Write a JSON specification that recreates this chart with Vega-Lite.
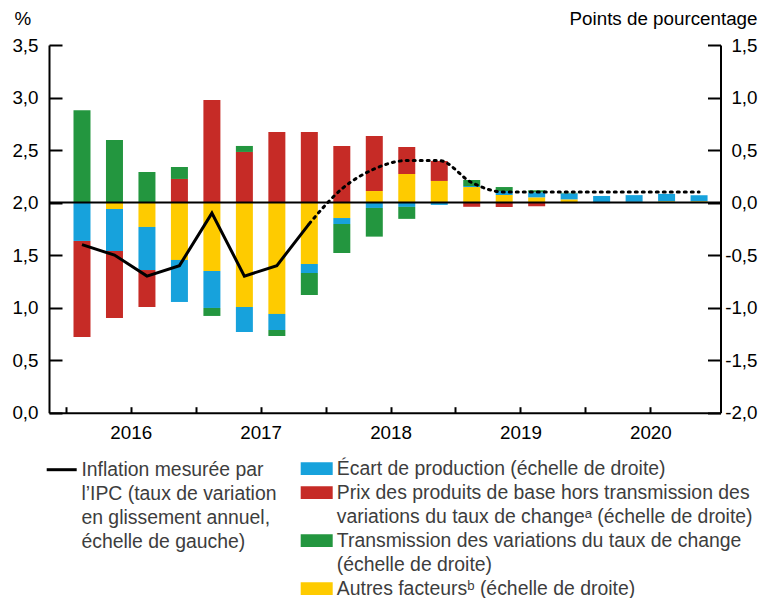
{
  "$schema": "https://vega.github.io/schema/vega-lite/v6.json",
  "width": 671.5,
  "height": 367.7,
  "autosize": {"type": "none"},
  "padding": {"left": 49, "top": 45, "right": 41.5, "bottom": 185.3},
  "config": {
    "view": {"stroke": null},
    "font": "Liberation Sans",
    "axis": {
      "grid": false,
      "domainColor": "#000000",
      "domainWidth": 2,
      "tickColor": "#000000",
      "tickWidth": 2,
      "labelColor": "#000000",
      "labelFont": "Liberation Sans",
      "labelFontSize": 18.8,
      "labelFlush": false,
      "labelOverlap": false,
      "titleFont": "Liberation Sans",
      "titleFontSize": 18.8,
      "titleFontWeight": "normal",
      "titleColor": "#000000"
    },
    "legend": {
      "labelFont": "Liberation Sans",
      "labelFontSize": 19.4,
      "labelColor": "#3d3d3d",
      "labelLimit": 1000,
      "padding": 0,
      "title": null
    }
  },
  "datasets": {
    "contrib": [
      {"t": 2016.125, "serie": "Transmission", "valeur": 0.88},
      {"t": 2016.125, "serie": "Écart de production", "valeur": -0.365},
      {"t": 2016.125, "serie": "Prix des produits de base", "valeur": -0.914},
      {"t": 2016.375, "serie": "Transmission", "valeur": 0.596},
      {"t": 2016.375, "serie": "Autres facteurs", "valeur": -0.061},
      {"t": 2016.375, "serie": "Écart de production", "valeur": -0.4},
      {"t": 2016.375, "serie": "Prix des produits de base", "valeur": -0.637},
      {"t": 2016.625, "serie": "Transmission", "valeur": 0.291},
      {"t": 2016.625, "serie": "Autres facteurs", "valeur": -0.232},
      {"t": 2016.625, "serie": "Écart de production", "valeur": -0.41},
      {"t": 2016.625, "serie": "Prix des produits de base", "valeur": -0.352},
      {"t": 2016.875, "serie": "Prix des produits de base", "valeur": 0.225},
      {"t": 2016.875, "serie": "Transmission", "valeur": 0.114},
      {"t": 2016.875, "serie": "Autres facteurs", "valeur": -0.546},
      {"t": 2016.875, "serie": "Écart de production", "valeur": -0.4},
      {"t": 2017.125, "serie": "Prix des produits de base", "valeur": 0.977},
      {"t": 2017.125, "serie": "Autres facteurs", "valeur": -0.651},
      {"t": 2017.125, "serie": "Écart de production", "valeur": -0.352},
      {"t": 2017.125, "serie": "Transmission", "valeur": -0.076},
      {"t": 2017.375, "serie": "Prix des produits de base", "valeur": 0.482},
      {"t": 2017.375, "serie": "Transmission", "valeur": 0.057},
      {"t": 2017.375, "serie": "Autres facteurs", "valeur": -0.994},
      {"t": 2017.375, "serie": "Écart de production", "valeur": -0.238},
      {"t": 2017.625, "serie": "Prix des produits de base", "valeur": 0.672},
      {"t": 2017.625, "serie": "Autres facteurs", "valeur": -1.06},
      {"t": 2017.625, "serie": "Écart de production", "valeur": -0.153},
      {"t": 2017.625, "serie": "Transmission", "valeur": -0.057},
      {"t": 2017.875, "serie": "Prix des produits de base", "valeur": 0.672},
      {"t": 2017.875, "serie": "Autres facteurs", "valeur": -0.584},
      {"t": 2017.875, "serie": "Écart de production", "valeur": -0.086},
      {"t": 2017.875, "serie": "Transmission", "valeur": -0.209},
      {"t": 2018.125, "serie": "Prix des produits de base", "valeur": 0.539},
      {"t": 2018.125, "serie": "Autres facteurs", "valeur": -0.147},
      {"t": 2018.125, "serie": "Écart de production", "valeur": -0.057},
      {"t": 2018.125, "serie": "Transmission", "valeur": -0.276},
      {"t": 2018.375, "serie": "Autres facteurs", "valeur": 0.11},
      {"t": 2018.375, "serie": "Prix des produits de base", "valeur": 0.524},
      {"t": 2018.375, "serie": "Écart de production", "valeur": -0.051},
      {"t": 2018.375, "serie": "Transmission", "valeur": -0.273},
      {"t": 2018.625, "serie": "Autres facteurs", "valeur": 0.272},
      {"t": 2018.625, "serie": "Prix des produits de base", "valeur": 0.257},
      {"t": 2018.625, "serie": "Écart de production", "valeur": -0.041},
      {"t": 2018.625, "serie": "Transmission", "valeur": -0.114},
      {"t": 2018.875, "serie": "Autres facteurs", "valeur": 0.206},
      {"t": 2018.875, "serie": "Prix des produits de base", "valeur": 0.19},
      {"t": 2018.875, "serie": "Écart de production", "valeur": -0.022},
      {"t": 2019.125, "serie": "Autres facteurs", "valeur": 0.148},
      {"t": 2019.125, "serie": "Écart de production", "valeur": 0.01},
      {"t": 2019.125, "serie": "Transmission", "valeur": 0.057},
      {"t": 2019.125, "serie": "Prix des produits de base", "valeur": -0.04},
      {"t": 2019.375, "serie": "Autres facteurs", "valeur": 0.072},
      {"t": 2019.375, "serie": "Écart de production", "valeur": 0.038},
      {"t": 2019.375, "serie": "Transmission", "valeur": 0.038},
      {"t": 2019.375, "serie": "Prix des produits de base", "valeur": -0.042},
      {"t": 2019.625, "serie": "Autres facteurs", "valeur": 0.05},
      {"t": 2019.625, "serie": "Écart de production", "valeur": 0.048},
      {"t": 2019.625, "serie": "Transmission", "valeur": 0.019},
      {"t": 2019.625, "serie": "Prix des produits de base", "valeur": -0.035},
      {"t": 2019.875, "serie": "Autres facteurs", "valeur": 0.031},
      {"t": 2019.875, "serie": "Écart de production", "valeur": 0.057},
      {"t": 2019.875, "serie": "Transmission", "valeur": 0.005},
      {"t": 2019.875, "serie": "Prix des produits de base", "valeur": -0.005},
      {"t": 2020.125, "serie": "Autres facteurs", "valeur": 0.003},
      {"t": 2020.125, "serie": "Écart de production", "valeur": 0.06},
      {"t": 2020.125, "serie": "Prix des produits de base", "valeur": -0.005},
      {"t": 2020.375, "serie": "Autres facteurs", "valeur": 0.007},
      {"t": 2020.375, "serie": "Écart de production", "valeur": 0.064},
      {"t": 2020.625, "serie": "Autres facteurs", "valeur": 0.013},
      {"t": 2020.625, "serie": "Écart de production", "valeur": 0.07},
      {"t": 2020.875, "serie": "Autres facteurs", "valeur": 0.013},
      {"t": 2020.875, "serie": "Écart de production", "valeur": 0.057}
    ],
    "ipc_obs": [
      {"t": 2016.125, "ipc": 1.6},
      {"t": 2016.375, "ipc": 1.5},
      {"t": 2016.625, "ipc": 1.3},
      {"t": 2016.875, "ipc": 1.4},
      {"t": 2017.125, "ipc": 1.9},
      {"t": 2017.375, "ipc": 1.3},
      {"t": 2017.625, "ipc": 1.4},
      {"t": 2017.875, "ipc": 1.8}
    ],
    "ipc_proj": [
      {"t": 2017.875, "ipc": 1.8},
      {"t": 2018.125, "ipc": 2.13},
      {"t": 2018.375, "ipc": 2.32},
      {"t": 2018.625, "ipc": 2.4},
      {"t": 2018.875, "ipc": 2.4},
      {"t": 2019.125, "ipc": 2.19},
      {"t": 2019.375, "ipc": 2.1},
      {"t": 2019.625, "ipc": 2.1},
      {"t": 2019.875, "ipc": 2.1},
      {"t": 2020.125, "ipc": 2.1},
      {"t": 2020.375, "ipc": 2.1},
      {"t": 2020.625, "ipc": 2.1},
      {"t": 2020.875, "ipc": 2.1}
    ]
  },
  "layer": [
    {
      "layer": [
        {
          "data": {"name": "contrib"},
          "transform": [
            {"calculate": "indexof(['Autres facteurs','Écart de production','Prix des produits de base','Transmission'], datum.serie)", "as": "rang"}
          ],
          "mark": {"type": "bar", "size": 17},
          "encoding": {
            "x": {
              "field": "t",
              "type": "quantitative",
              "scale": {"domain": [2015.871, 2021.04], "nice": false, "zero": false, "padding": 0},
              "axis": {
                "orient": "bottom",
                "title": null,
                "values": [2016, 2016.25, 2016.5, 2016.75, 2017, 2017.25, 2017.5, 2017.75, 2018, 2018.25, 2018.5, 2018.75, 2019, 2019.25, 2019.5, 2019.75, 2020, 2020.25, 2020.5, 2020.75],
                "labelExpr": "datum.value % 1 === 0.5 ? toString(floor(datum.value)) : ''",
                "tickSize": -6,
                "labelPadding": 17,
                "encode": {"ticks": {"update": {"y2": {"signal": "datum.value % 1 === 0 ? -11 : -6"}}}}
              }
            },
            "y": {
              "field": "valeur",
              "type": "quantitative",
              "stack": "zero",
              "scale": {"domain": [-2, 1.5], "nice": false, "zero": false, "padding": 0},
              "axis": {
                "orient": "right",
                "values": [-2, -1.5, -1, -0.5, 0, 0.5, 1, 1.5],
                "labelExpr": "replace(replace(format(datum.value, '.1f'), '.', ','), '−', '-')",
                "tickSize": -13,
                "labelPadding": 49.5,
                "labelAlign": "right",
                "title": "Points de pourcentage",
                "titleAngle": 0,
                "titleAlign": "right",
                "titleBaseline": "middle",
                "titleX": 36.5,
                "titleY": -27
              }
            },
            "color": {
              "field": "serie",
              "type": "nominal",
              "scale": {
                "domain": ["Écart de production", "Prix des produits de base", "Transmission", "Autres facteurs"],
                "range": ["#17a2dc", "#c62b26", "#23963f", "#fecb00"]
              },
              "legend": {
                "orient": "none",
                "legendX": 258,
                "legendY": 414,
                "symbolType": "M-2,-0.8H2V0.8H-2Z",
                "symbolSize": 256,
                "symbolStrokeWidth": 0,
                "labelOffset": 10.4,
                "rowPadding": 3,
                "labelExpr": "datum.label === 'Écart de production' ? 'Écart de production (échelle de droite)' : datum.label === 'Prix des produits de base' ? ['Prix des produits de base hors transmission des', 'variations du taux de changeᵃ (échelle de droite)'] : datum.label === 'Transmission' ? ['Transmission des variations du taux de change', '(échelle de droite)'] : 'Autres facteursᵇ (échelle de droite)'",
                "encode": {"labels": {"update": {"lineHeight": {"value": 24}}}}
              }
            },
            "order": {"field": "rang", "type": "quantitative", "sort": "ascending"}
          }
        },
        {
          "data": {"values": [{}]},
          "mark": {"type": "rule", "color": "#000000", "strokeWidth": 2},
          "encoding": {"y": {"datum": 0}}
        }
      ]
    },
    {
      "layer": [
        {
          "data": {"name": "ipc_obs"},
          "mark": {"type": "line", "strokeWidth": 3, "strokeJoin": "miter"},
          "encoding": {
            "x": {"field": "t", "type": "quantitative"},
            "y": {
              "field": "ipc",
              "type": "quantitative",
              "scale": {"domain": [0, 3.5], "nice": false, "zero": false, "padding": 0},
              "axis": {
                "orient": "left",
                "values": [0, 0.5, 1, 1.5, 2, 2.5, 3, 3.5],
                "labelExpr": "replace(format(datum.value, '.1f'), '.', ',')",
                "tickSize": -13,
                "labelPadding": 24,
                "title": "%",
                "titleAngle": 0,
                "titleAlign": "left",
                "titleBaseline": "middle",
                "titleX": -35,
                "titleY": -27
              }
            },
            "stroke": {
              "datum": "IPC",
              "scale": {"range": ["#000000"]},
              "legend": {
                "orient": "none",
                "legendX": 3,
                "legendY": 415,
                "symbolType": "M-2,0H2",
                "symbolSize": 225,
                "symbolStrokeWidth": 3,
                "labelOffset": 10,
                "labelExpr": "['Inflation mesurée par', 'l’IPC (taux de variation', 'en glissement annuel,', 'échelle de gauche)']",
                "encode": {"labels": {"update": {"lineHeight": {"value": 24}}}}
              }
            }
          }
        },
        {
          "data": {"name": "ipc_proj"},
          "mark": {"type": "line", "strokeWidth": 3, "strokeDash": [2, 5], "strokeCap": "round", "interpolate": "monotone", "color": "#000000"},
          "encoding": {
            "x": {"field": "t", "type": "quantitative"},
            "y": {"field": "ipc", "type": "quantitative"}
          }
        }
      ]
    }
  ],
  "resolve": {"scale": {"y": "independent"}}
}
